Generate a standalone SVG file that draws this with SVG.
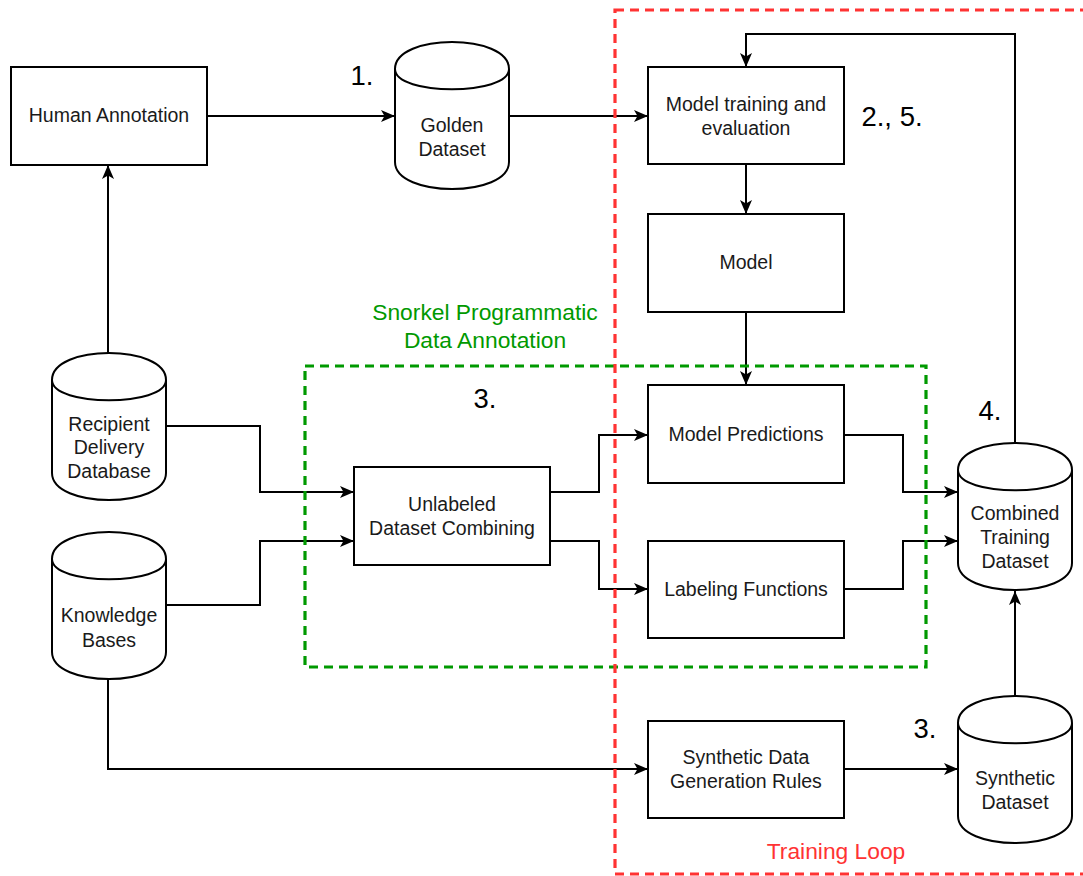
<svg xmlns="http://www.w3.org/2000/svg" xmlns:xlink="http://www.w3.org/1999/xlink" width="1083" height="876" viewBox="0 0 1083 876">
<style>
.box{fill:#fff;stroke:#000;stroke-width:2}
.cyl{fill:#fff;stroke:#000;stroke-width:2}
.lbl{font-family:"Liberation Sans",Arial,sans-serif;font-size:19.5px;fill:#1a1a1a;text-anchor:middle}
.num{font-family:"Liberation Sans",Arial,sans-serif;font-size:27.5px;fill:#000;text-anchor:middle}
.edge{fill:none;stroke:#000;stroke-width:2;marker-end:url(#arr)}
.grp{fill:none;stroke-width:3.2;stroke-dasharray:9 6}
</style>
<defs>
<marker id="arr" markerUnits="userSpaceOnUse" markerWidth="16" markerHeight="14" refX="14" refY="6" orient="auto">
<path d="M0,0 L14,6 L0,12 L3.5,6 Z" fill="#000"/>
</marker>
<path id="cylp" class="cyl" d="M0,27 C0,-9 114,-9 114,27 L114,120 C114,156 0,156 0,120 Z M0,27 C0,54 114,54 114,27"/>
</defs>
<rect width="1083" height="876" fill="#fff"/>

<g id="connectors">
<path class="edge" d="M207,116 L395,116"/>
<path class="edge" d="M509,116 L648,116"/>
<path class="edge" d="M1015,442 L1015,34 L746,34 L746,67"/>
<path class="edge" d="M746,164 L746,214"/>
<path class="edge" d="M746,312 L746,385"/>
<path class="edge" d="M108,353 L108,165"/>
<path class="edge" d="M166,426 L260,426 L260,492 L354,492"/>
<path class="edge" d="M166,605 L260,605 L260,541 L354,541"/>
<path class="edge" d="M550,492 L599,492 L599,435 L648,435"/>
<path class="edge" d="M550,541 L599,541 L599,589 L648,589"/>
<path class="edge" d="M844,435 L903,435 L903,492 L958,492"/>
<path class="edge" d="M844,589 L903,589 L903,541 L958,541"/>
<path class="edge" d="M108,679 L108,769 L648,769"/>
<path class="edge" d="M844,769 L958,769"/>
<path class="edge" d="M1015,696 L1015,591"/>
</g>

<g id="human-annotation">
<rect class="box" x="11" y="67" width="196" height="98"/>
<text class="lbl" x="109" y="122">Human Annotation</text>
</g>
<g id="golden-dataset">
<use xlink:href="#cylp" x="395" y="42"/>
<text class="lbl" x="452" y="132">Golden</text>
<text class="lbl" x="452" y="156">Dataset</text>
</g>
<g id="model-training">
<rect class="box" x="648" y="67" width="196" height="97"/>
<text class="lbl" x="746" y="111">Model training and</text>
<text class="lbl" x="746" y="135">evaluation</text>
</g>
<g id="model">
<rect class="box" x="648" y="214" width="196" height="98"/>
<text class="lbl" x="746" y="269">Model</text>
</g>
<g id="model-predictions">
<rect class="box" x="648" y="385" width="196" height="98"/>
<text class="lbl" x="746" y="441">Model Predictions</text>
</g>
<g id="labeling-functions">
<rect class="box" x="648" y="541" width="196" height="97"/>
<text class="lbl" x="746" y="596">Labeling Functions</text>
</g>
<g id="unlabeled-combining">
<rect class="box" x="354" y="467" width="196" height="98"/>
<text class="lbl" x="452" y="511">Unlabeled</text>
<text class="lbl" x="452" y="535">Dataset Combining</text>
</g>
<g id="recipient-db">
<use xlink:href="#cylp" x="52" y="353"/>
<text class="lbl" x="109" y="431">Recipient</text>
<text class="lbl" x="109" y="454">Delivery</text>
<text class="lbl" x="109" y="478">Database</text>
</g>
<g id="knowledge-bases">
<use xlink:href="#cylp" x="52" y="532"/>
<text class="lbl" x="109" y="622">Knowledge</text>
<text class="lbl" x="109" y="647">Bases</text>
</g>
<g id="combined-dataset">
<use xlink:href="#cylp" x="958" y="443"/>
<text class="lbl" x="1015" y="520">Combined</text>
<text class="lbl" x="1015" y="544">Training</text>
<text class="lbl" x="1015" y="568">Dataset</text>
</g>
<g id="synthetic-rules">
<rect class="box" x="648" y="721" width="196" height="97"/>
<text class="lbl" x="746" y="764">Synthetic Data</text>
<text class="lbl" x="746" y="788">Generation Rules</text>
</g>
<g id="synthetic-dataset">
<use xlink:href="#cylp" x="958" y="696"/>
<text class="lbl" x="1015" y="785">Synthetic</text>
<text class="lbl" x="1015" y="809">Dataset</text>
</g>

<g id="step-labels">
<text class="num" x="362" y="85">1.</text>
<text class="num" x="892" y="126">2., 5.</text>
<text class="num" x="485" y="408">3.</text>
<text class="num" x="990" y="420">4.</text>
<text class="num" x="925" y="738">3.</text>
</g>

<g id="snorkel-group">
<rect class="grp" x="305" y="366" width="621" height="301" stroke="#009900"/>
<text x="485" y="320" font-family="Liberation Sans, Arial, sans-serif" font-size="22.8" fill="#009900" text-anchor="middle">Snorkel Programmatic</text>
<text x="485" y="348" font-family="Liberation Sans, Arial, sans-serif" font-size="22.8" fill="#009900" text-anchor="middle">Data Annotation</text>
</g>
<g id="training-loop">
<rect class="grp" x="615" y="10" width="480" height="864" stroke="#ff3333"/>
<text x="836" y="859" font-family="Liberation Sans, Arial, sans-serif" font-size="22.8" fill="#ff3333" text-anchor="middle">Training Loop</text>
</g>
</svg>
